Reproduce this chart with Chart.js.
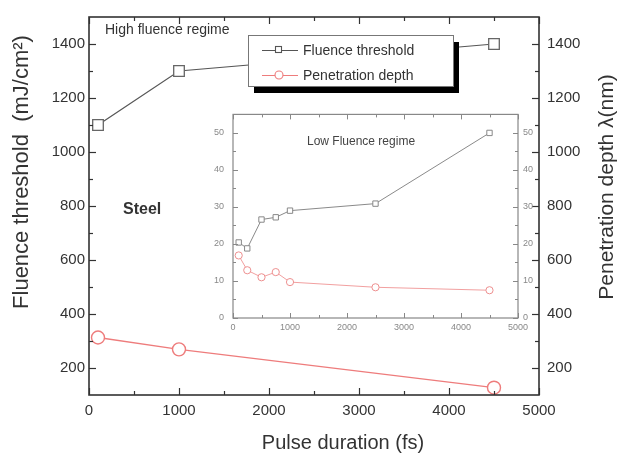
<!DOCTYPE html>
<html><head><meta charset="utf-8">
<script src="https://cdn.jsdelivr.net/npm/chart.js@4"></script>
<style>
html,body{margin:0;padding:0;background:#fff;}
#wrap{position:relative;width:619px;height:456px;overflow:hidden;background:#fff;}
#main{position:absolute;left:0;top:0;}
#inset{position:absolute;left:195px;top:100px;}
</style></head><body>
<div id="wrap"><canvas id="main" width="619" height="456"></canvas><canvas id="inset" width="360" height="245"></canvas></div>
<script>
// ---- data ----
const pulseMain = [100, 1000, 4500];
const fluenceMain = [1100, 1300, 1400];
const depthMain = [313, 269, 127];

const pulseInset = [100, 250, 500, 750, 1000, 2500, 4500];
const fluenceInset = [20.4, 18.8, 26.6, 27.2, 29.0, 30.9, 50.0];
const depthInset = [16.9, 12.9, 11.0, 12.4, 9.7, 8.3, 7.5];

const mainXTicks = [0, 1000, 2000, 3000, 4000, 5000];
const mainYTicks = [200, 400, 600, 800, 1000, 1200, 1400];
const insetXTicks = [0, 1000, 2000, 3000, 4000, 5000];
const insetYTicks = [0, 10, 20, 30, 40, 50];

const seriesNames = ['Fluence threshold', 'Penetration depth'];
const FONT = '"Liberation Sans", Arial, Helvetica, sans-serif';
const DARK = '#555555';
const RED = '#ee7c7c';

function pts(xs, ys) { return xs.map((x, i) => ({x: x, y: ys[i]})); }
function midpoints(arr) { const m = []; for (let i = 0; i < arr.length - 1; i++) m.push((arr[i] + arr[i + 1]) / 2); return m; }
function setTicks(vals) { return s => { s.ticks = vals.map(v => ({value: v})); }; }
const plain = v => String(v);

function drawFrameTicks(chart, opts) {
  const ctx = chart.ctx, a = chart.chartArea;
  const xs = chart.scales.x, ys = chart.scales.y;
  ctx.save();
  ctx.strokeStyle = opts.color;
  ctx.lineWidth = opts.tickWidth;
  const line = (x1, y1, x2, y2) => { ctx.beginPath(); ctx.moveTo(x1, y1); ctx.lineTo(x2, y2); ctx.stroke(); };
  [[opts.xMajor, opts.major], [opts.xMinor, opts.minor]].forEach(([vals, len]) => vals.forEach(v => {
    const p = Math.round(xs.getPixelForValue(v)) + 0.5;
    line(p, a.bottom, p, a.bottom - len);
    line(p, a.top, p, a.top + len);
  }));
  [[opts.yMajor, opts.major], [opts.yMinor, opts.minor]].forEach(([vals, len]) => vals.forEach(v => {
    const p = Math.round(ys.getPixelForValue(v)) + 0.5;
    line(a.left, p, a.left + len, p);
    line(a.right, p, a.right - len, p);
  }));
  ctx.lineWidth = opts.frameWidth;
  ctx.strokeRect(a.left, a.top, a.right - a.left, a.bottom - a.top);
  ctx.restore();
}

// ---------------- main chart ----------------
const mainDecor = {
  id: 'mainDecor',
  afterDraw(chart) {
    const ctx = chart.ctx;
    drawFrameTicks(chart, {
      color: '#333', tickWidth: 1.2, frameWidth: 1.6, major: 7, minor: 4,
      xMajor: mainXTicks, xMinor: midpoints(mainXTicks),
      yMajor: mainYTicks, yMinor: midpoints(mainYTicks)
    });
    // legend with drop shadow
    const lx = 248, ly = 35, lw = 205, lh = 51;
    ctx.save();
    ctx.fillStyle = '#000';
    ctx.fillRect(lx + 6, ly + 7, lw, lh);
    ctx.fillStyle = '#fff';
    ctx.fillRect(lx, ly, lw, lh);
    ctx.strokeStyle = '#777';
    ctx.lineWidth = 1;
    ctx.strokeRect(lx + 0.5, ly + 0.5, lw, lh);
    const rows = [
      {y: 50, c: DARK, style: 'rect'},
      {y: 75, c: RED, style: 'circle'}
    ];
    rows.forEach((r, i) => {
      ctx.strokeStyle = r.c; ctx.lineWidth = 1.1;
      ctx.beginPath(); ctx.moveTo(262, r.y + 0.5); ctx.lineTo(298, r.y + 0.5); ctx.stroke();
      ctx.fillStyle = '#fff';
      if (r.style === 'rect') { ctx.fillRect(275, r.y - 3, 7, 7); ctx.strokeRect(275.5, r.y - 3.5, 6, 6); }
      else { ctx.beginPath(); ctx.arc(279, r.y, 4, 0, Math.PI * 2); ctx.fill(); ctx.stroke(); }
      ctx.fillStyle = '#333';
      ctx.font = '14px ' + FONT;
      ctx.textBaseline = 'middle';
      ctx.textAlign = 'left';
      ctx.fillText(seriesNames[i], 303, r.y + 1);
    });
    // annotations
    ctx.fillStyle = '#333';
    ctx.font = '14px ' + FONT;
    ctx.textBaseline = 'middle';
    ctx.fillText('High fluence regime', 105, 30);
    ctx.font = 'bold 16px ' + FONT;
    ctx.fillText('Steel', 123, 210);
    // axis titles
    ctx.font = '20px ' + FONT;
    ctx.textAlign = 'center';
    ctx.fillText('Pulse duration (fs)', 343, 443);
    ctx.save();
    ctx.translate(22, 172); ctx.rotate(-Math.PI / 2);
    ctx.font = '22px ' + FONT;
    ctx.fillText('Fluence threshold  (mJ/cm\u00B2)', 0, 0);
    ctx.restore();
    ctx.save();
    ctx.translate(607, 187); ctx.rotate(-Math.PI / 2);
    ctx.font = '21px ' + FONT;
    ctx.fillText('Penetration depth \u03BB(nm)', 0, 0);
    ctx.restore();
    ctx.restore();
  }
};

new Chart(document.getElementById('main'), {
  type: 'line',
  data: {
    datasets: [
      {label: seriesNames[0], data: pts(pulseMain, fluenceMain), yAxisID: 'y',
       borderColor: DARK, borderWidth: 1.2, pointStyle: 'rect', pointRadius: 7.5,
       pointBackgroundColor: '#fff', pointBorderColor: '#666', pointBorderWidth: 1.3, clip: false},
      {label: seriesNames[1], data: pts(pulseMain, depthMain), yAxisID: 'y2',
       borderColor: RED, borderWidth: 1.3, pointStyle: 'circle', pointRadius: 6.5,
       pointBackgroundColor: '#fff', pointBorderColor: RED, pointBorderWidth: 1.4, clip: false}
    ]
  },
  options: {
    responsive: false, animation: false, devicePixelRatio: 1,
    layout: {padding: {top: 11, left: 0, right: 0, bottom: 0}},
    plugins: {legend: {display: false}, tooltip: {enabled: false}},
    scales: {
      x: {type: 'linear', min: 0, max: 5000, afterBuildTicks: setTicks(mainXTicks),
          afterFit: s => { s.height = 61; },
          grid: {display: false, drawTicks: false}, border: {display: false},
          ticks: {font: {family: FONT, size: 15}, color: '#333', padding: 7, maxRotation: 0, autoSkip: false, callback: plain}},
      y: {type: 'linear', position: 'left', min: 100, max: 1500, afterBuildTicks: setTicks(mainYTicks),
          afterFit: s => { s.width = 89; },
          grid: {display: false, drawTicks: false}, border: {display: false},
          ticks: {font: {family: FONT, size: 15}, color: '#333', padding: 4, autoSkip: false, callback: plain}},
      y2: {type: 'linear', position: 'right', min: 100, max: 1500, afterBuildTicks: setTicks(mainYTicks),
          afterFit: s => { s.width = 80; },
          grid: {display: false, drawTicks: false}, border: {display: false},
          ticks: {font: {family: FONT, size: 15}, color: '#333', padding: 8, autoSkip: false, callback: plain}}
    }
  },
  plugins: [mainDecor]
});

// ---------------- inset chart ----------------
const insetDecor = {
  id: 'insetDecor',
  beforeDatasetsDraw(chart) {
    const ctx = chart.ctx, a = chart.chartArea;
    ctx.save(); ctx.fillStyle = '#fff';
    ctx.fillRect(a.left, a.top, a.right - a.left, a.bottom - a.top);
    ctx.restore();
  },
  afterDraw(chart) {
    drawFrameTicks(chart, {
      color: '#888', tickWidth: 1, frameWidth: 1.2, major: 5, minor: 3,
      xMajor: insetXTicks, xMinor: midpoints(insetXTicks),
      yMajor: insetYTicks, yMinor: midpoints(insetYTicks)
    });
    const ctx = chart.ctx;
    ctx.save();
    ctx.fillStyle = '#444';
    ctx.font = '12px ' + FONT;
    ctx.textBaseline = 'middle';
    ctx.fillText('Low Fluence regime', 112, 42);
    ctx.restore();
  }
};

new Chart(document.getElementById('inset'), {
  type: 'line',
  data: {
    datasets: [
      {label: seriesNames[0], data: pts(pulseInset, fluenceInset), yAxisID: 'y',
       borderColor: '#8a8a8a', borderWidth: 1, pointStyle: 'rect', pointRadius: 3.8,
       pointBackgroundColor: '#fff', pointBorderColor: '#888', pointBorderWidth: 1, clip: false},
      {label: seriesNames[1], data: pts(pulseInset, depthInset), yAxisID: 'y',
       borderColor: '#f2a0a0', borderWidth: 1, pointStyle: 'circle', pointRadius: 3.6,
       pointBackgroundColor: '#fff', pointBorderColor: '#ee9090', pointBorderWidth: 1, clip: false}
    ]
  },
  options: {
    responsive: false, animation: false, devicePixelRatio: 1,
    layout: {padding: {top: 13, left: 0, right: 0, bottom: 0}},
    plugins: {legend: {display: false}, tooltip: {enabled: false}},
    scales: {
      x: {type: 'linear', min: 0, max: 5000, afterBuildTicks: setTicks(insetXTicks),
          afterFit: s => { s.height = 27; },
          grid: {display: false, drawTicks: false}, border: {display: false},
          ticks: {font: {family: FONT, size: 9}, color: '#888', padding: 4, maxRotation: 0, autoSkip: false, callback: plain}},
      y: {type: 'linear', position: 'left', min: 0, max: 55, afterBuildTicks: setTicks(insetYTicks),
          afterFit: s => { s.width = 38; },
          grid: {display: false, drawTicks: false}, border: {display: false},
          ticks: {font: {family: FONT, size: 9}, color: '#888', padding: 9, autoSkip: false, callback: plain}},
      y2: {type: 'linear', position: 'right', min: 0, max: 55, afterBuildTicks: setTicks(insetYTicks),
          afterFit: s => { s.width = 37; },
          grid: {display: false, drawTicks: false}, border: {display: false},
          ticks: {font: {family: FONT, size: 9}, color: '#888', padding: 5, autoSkip: false, callback: plain}}
    }
  },
  plugins: [insetDecor]
});
</script>
</body></html>
